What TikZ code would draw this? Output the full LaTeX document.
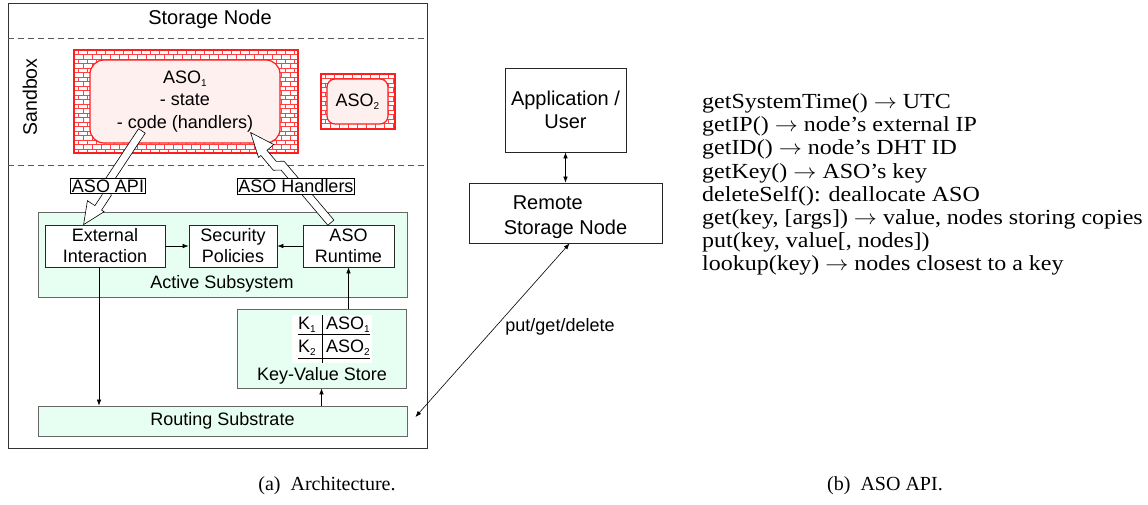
\documentclass[tikz,border=0pt]{standalone}
\usepackage{fontspec}
\usepackage{graphicx}
\setmainfont{Liberation Serif}
\setsansfont{Liberation Sans}
\usetikzlibrary{calc,arrows.meta}
\definecolor{mint}{RGB}{230,255,242}
\definecolor{asopink}{RGB}{255,240,240}
\definecolor{brickred}{RGB}{255,30,30}
\newcommand\mysub[1]{\raisebox{-0.35ex}{\fontsize{10}{10}\selectfont #1}}
\newcommand\brickwall[4]{%
  \begin{scope}
    \clip (#1,#2) rectangle (#3,#4);
    \fill[white] (#1,#2) rectangle (#3,#4);
    \pgfmathtruncatemacro\nrows{ceil((#4-#2)/4.5)}
    \pgfmathtruncatemacro\ncols{ceil((#3-#1)/9)+1}
    \foreach \r in {0,...,\nrows}{
      \pgfmathsetmacro\yy{#2+\r*4.5}
      \pgfmathsetmacro\off{mod(\r,2)*4.5}
      \draw[brick] (#1,\yy) -- (#3,\yy);
      \foreach \c in {0,...,\ncols}{\draw[brick] ({#1+\off+\c*9-4.5},\yy) -- ++(0,4.5);}
    }
  \end{scope}}
\newcommand\bolt[2]{%
  \filldraw[boltstyle]
    ($(#1)!0!(#2)!1pt!90:(#2)$) --
    ($(#1)!0.60!(#2)!1pt!90:(#2)$) --
    ($(#1)!0.64!(#2)!7pt!90:(#2)$) --
    ($(#1)!0.80!(#2)!7pt!90:(#2)$) --
    ($(#1)!0.80!(#2)!10pt!90:(#2)$) --
    (#2) --
    ($(#1)!0.80!(#2)!10pt!270:(#2)$) --
    ($(#1)!0.80!(#2)!1pt!270:(#2)$) --
    ($(#1)!0.68!(#2)!1pt!270:(#2)$) --
    ($(#1)!0.64!(#2)!7pt!270:(#2)$) --
    ($(#1)!0!(#2)!7pt!270:(#2)$) -- cycle;}
\begin{document}
\begin{tikzpicture}[x=1pt,y=-1pt,
  sf/.style={font=\sffamily\fontsize{18}{21}\selectfont},
  sfbig/.style={font=\sffamily\fontsize{20}{23}\selectfont},
  box/.style={sf, draw=black!85, line width=0.8pt, fill=white, align=center, inner sep=0pt},
  greenbox/.style={box, draw=black!60, fill=mint},
  redframe/.style={draw=brickred, line width=1.8pt, inner sep=0pt},
  asoin/.style={sf, draw=brickred, line width=1.2pt, fill=asopink, rounded corners=14pt, inner sep=0pt, align=center},
  brick/.style={draw=brickred!85, line width=0.5pt},
  boltstyle/.style={draw=black, fill=white, line width=0.6pt, line join=miter},
  lbl/.style={sf, draw=black, fill=white, line width=0.6pt, inner sep=1.2pt},
  txt/.style={sf, inner sep=0pt, align=center},
  arr/.style={-{Latex[length=6pt,width=4.5pt]}, line width=0.6pt},
  arrb/.style={{Latex[length=6pt,width=4.5pt]}-{Latex[length=6pt,width=4.5pt]}, line width=0.6pt},
  dsh/.style={draw=black!65, line width=0.8pt, dash pattern=on 6pt off 4pt},
  captxt/.style={font=\fontsize{20}{24}\selectfont, inner sep=0pt}]
\useasboundingbox (0,0) rectangle (1148,504);
\fill[white] (0,0) rectangle (1148,504);

% Storage node container
\node[draw=black!80, line width=0.9pt, minimum width=419, minimum height=445, inner sep=0pt] (sn) at (217.5,225.5) {};
\node[txt, sfbig] (snt) at (210,19) {Storage Node};
\draw[dsh] (sn.west |- 0,38) coordinate (d1a) -- (sn.east |- 0,38) coordinate (d1b);
\draw[dsh] (sn.west |- 0,165) coordinate (d2a) -- (sn.east |- 0,165) coordinate (d2b);
\node[txt, rotate=90, font=\sffamily\fontsize{19.5}{22}\selectfont] (sbx) at (30,97) {Sandbox};

% ASO1
\brickwall{74}{50}{298}{153}
\node[redframe, minimum width=224, minimum height=103] (aso1f) at (186,101.5) {};
\node[asoin, minimum width=190, minimum height=83, font=\sffamily\fontsize{18}{22.5}\selectfont] (aso1) at (185,101.5) {ASO\mysub{1}\\- state\\- code (handlers)};

% ASO2
\brickwall{321}{74}{395}{129}
\node[redframe, minimum width=74, minimum height=55] (aso2f) at (358,101.5) {};
\node[asoin, rounded corners=8pt, minimum width=61, minimum height=45] (aso2) at (357.5,101.5) {ASO\mysub{2}};

% Active subsystem
\node[greenbox, minimum width=369, minimum height=85] (act) at (222.5,254.5) {};
\node[txt] (actl) at (222,284) {Active Subsystem};
\node[box, minimum width=120, minimum height=42] (ext) at (105,246) {External\\Interaction};
\node[box, minimum width=88, minimum height=42] (sec) at (233,246) {Security\\Policies};
\node[box, minimum width=91, minimum height=42] (rt) at (348.5,246) {ASO\\Runtime};

% Key-value store
\node[greenbox, minimum width=169, minimum height=79] (kv) at (321.5,348.5) {};
\node[txt] (kvl) at (322,376) {Key-Value Store};
\fill[white] (292,315) rectangle (372,363);
\node[txt] (k1) at (307,325) {K\mysub{1}};
\node[txt] (a1) at (348,325) {ASO\mysub{1}};
\node[txt] (k2) at (307,348) {K\mysub{2}};
\node[txt] (a2) at (348,348) {ASO\mysub{2}};
\draw[line width=0.7pt] (322,315) -- (322,363);
\draw[line width=0.7pt] (298,334) -- (370,334);
\draw[line width=0.7pt] (298,358) -- (370,358);

% Routing substrate
\node[greenbox, minimum width=369, minimum height=30] (routing) at (222.5,421) {Routing Substrate};

% Right part
\node[box, sfbig, minimum width=121, minimum height=84] (app) at (565.5,110) {Application /\\User};
\node[box, minimum width=193, minimum height=60] (remote) at (565.5,213) {};
\node[txt, align=left, font=\sffamily\fontsize{20}{25}\selectfont] (remotet) at (565.5,217) {\hspace*{9pt}Remote\\Storage Node};

% Bolts
\coordinate (apiS) at ($(aso1.south west)+(55,-11)$);
\coordinate (apiT) at ($(ext.north west)+(39,0)$);
\coordinate (hdlS) at ($(rt.north west)+(26,0)$);
\coordinate (hdlT) at ($(aso1.south east)+(-30,-11)$);
\bolt{apiS}{apiT}
\bolt{hdlS}{hdlT}
\node[lbl] (apil) at (108,186) {ASO API};
\node[lbl] (hdll) at (296,186) {ASO Handlers};

% Connectors
\draw[arr] (ext.east) -- (sec.west);
\draw[arr] (rt.west) -- (sec.east);
\draw[arr] (kv.north -| rt.south) -- (rt.south);
\draw[arr] ($(ext.south)+(-6,0)$) -- ($(ext.south |- routing.north)+(-6,0)$);
\draw[arr] (routing.north -| kv.south) -- (kv.south);
\draw[arrb] (app.south) -- (remote.north);
\coordinate (pgdA) at ($(remote.south west)+(101,0)$);
\coordinate (pgdB) at ($(routing.east)+(8,-4)$);
\draw[arrb] (pgdA) -- (pgdB);
\node[txt] (pgdl) at (560,327) {put/get/delete};

% API list
\node[anchor=north west, inner sep=0pt] (api) at (702,92) {%
\fontsize{21.5}{23.2}\selectfont\scalebox{1.115}[1]{\begin{tabular}{@{}l@{}}
getSystemTime() $\rightarrow$ UTC\\
getIP() $\rightarrow$ node’s external IP\\
getID() $\rightarrow$ node’s DHT ID\\
getKey() $\rightarrow$ ASO’s key\\
deleteSelf(): deallocate ASO\\
get(key, [args]) $\rightarrow$ value, nodes storing copies\\
put(key, value[, nodes])\\
lookup(key) $\rightarrow$ nodes closest to a key
\end{tabular}}};

% Captions
\node[captxt] (capa) at (327,486) {(a)~~Architecture.};
\node[captxt] (capb) at (885,486) {(b)~~ASO API.};
\end{tikzpicture}
\end{document}
